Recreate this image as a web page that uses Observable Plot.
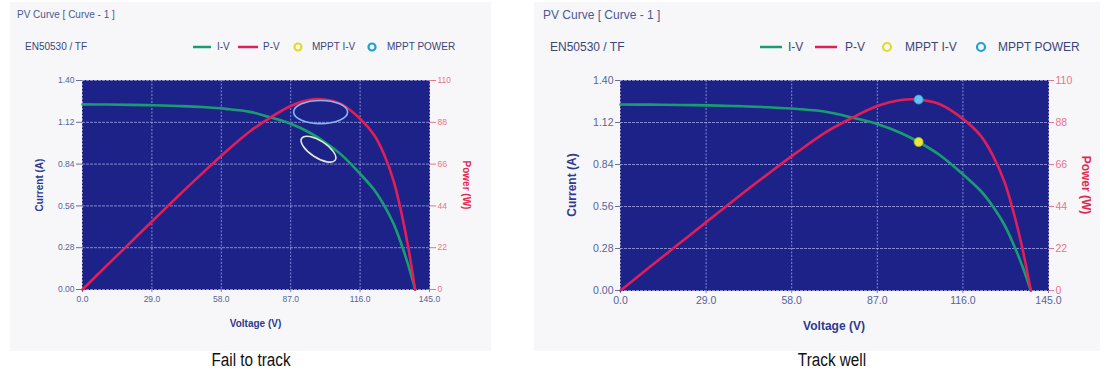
<!DOCTYPE html>
<html><head><meta charset="utf-8">
<script src="https://cdn.jsdelivr.net/npm/d3@7"></script>
<script src="https://cdn.jsdelivr.net/npm/@observablehq/plot@0.6"></script>
<style>
body{margin:0;background:#fff;width:1111px;height:379px;overflow:hidden;position:relative;font-family:"Liberation Sans",Arial,sans-serif;}
.panel{position:absolute;background:#f7f7f9;}
.t{position:absolute;white-space:nowrap;line-height:1;transform:translateY(-50%);}
.c{position:absolute;white-space:nowrap;line-height:1;transform:translate(-50%,-50%);}
.plotbox{position:absolute;}
.plotbox svg{position:absolute;left:0;top:0;overflow:visible;}
</style></head><body>
<script>
// ---- data ----
const voltage = [0, 10, 20, 30, 40, 50, 60, 70, 78, 87, 95, 101, 108, 116, 122, 126, 130, 133, 136, 139];
const current = [1.24, 1.239, 1.237, 1.234, 1.229, 1.222, 1.21, 1.19, 1.155, 1.11, 1.05, 0.99, 0.905, 0.775, 0.665, 0.565, 0.44, 0.315, 0.17, 0];
const power   = [0, 12.4, 24.7, 37.0, 49.2, 61.1, 72.6, 83.3, 90.1, 96.6, 99.8, 100.0, 97.7, 89.9, 81.1, 71.2, 57.2, 41.9, 23.1, 0];
const mpptVoltage = [101];
const mpptCurrent = [0.99];
const mpptPower = [100];
// hand-drawn rings on the "fail to track" panel
const failRingVoltage = [98.6, 99.5];
const failRingCurrent = [0.94];
const failRingPower = [93.4];
const voltageTicks = [0, 29, 58, 87, 116, 145];
const currentTicks = [0, 0.28, 0.56, 0.84, 1.12, 1.40];
const powerTicks = [0, 22, 44, 66, 88, 110];
const legendLabels = ["I-V", "P-V", "MPPT I-V", "MPPT POWER"];
const captions = ["Fail to track", "Track well"];
const chartTitle = "PV Curve [ Curve - 1 ]";
const chartSubtitle = "EN50530 / TF";
const axisTitles = ["Voltage (V)", "Current (A)", "Power (W)"];

const iv = voltage.map((v, k) => ({v, i: current[k]}));
const pv = voltage.map((v, k) => ({v, p: power[k]}));

const NAVY = "#1d2288", GRID = "#a9acec", GREEN = "#1a9c72", RED = "#e01e58";
const YEL = "#e8e838", BLUE = "#5cc4ee", TXT = "#56639a", NAVYTXT = "#2d3a8e", PINK = "#e8738c";
const FONT = "Liberation Sans, Arial, sans-serif";

function ellipseSymbol(aspect) {
  return {draw(ctx, size) {
    const rx = Math.sqrt(size / Math.PI), ry = rx * aspect, k = 0.5523;
    ctx.moveTo(rx, 0);
    ctx.bezierCurveTo(rx, k * ry, k * rx, ry, 0, ry);
    ctx.bezierCurveTo(-k * rx, ry, -rx, k * ry, -rx, 0);
    ctx.bezierCurveTo(-rx, -k * ry, -k * rx, -ry, 0, -ry);
    ctx.bezierCurveTo(k * rx, -ry, rx, -k * ry, rx, 0);
    ctx.closePath();
  }};
}

const panels = [
  {x0: 10, x1: 491, plotL: 82, plotR: 429, plotT: 80, plotB: 289, fs: 10, tfs: 8.5, tsize: 6, track: false,
   titleX: 17, subX: 25, legend: [[193, 211, 217], [238, 258, 263], [298, 0, 312], [372, 0, 387]],
   curX: 40, powX: 466, voltY: 324, capX: 251, ring: 3.5},
  {x0: 534, x1: 1100, plotL: 620, plotR: 1048, plotT: 80, plotB: 290, fs: 12, tfs: 10.5, tsize: 5, track: true,
   titleX: 543, subX: 550, legend: [[760, 782, 788], [815, 837, 845], [887, 0, 905], [981, 0, 998]],
   curX: 572, powX: 1086, voltY: 326, capX: 832, ring: 4}
];

const body = document.body;
function txt(cls, x, y, s, style) {
  const d = document.createElement("div");
  d.className = cls; d.textContent = s;
  d.style.left = x + "px"; d.style.top = y + "px";
  Object.assign(d.style, style || {});
  body.appendChild(d);
  return d;
}

panels.forEach((P, idx) => {
  const bg = document.createElement("div");
  bg.className = "panel";
  Object.assign(bg.style, {left: P.x0 + "px", top: "2px", width: (P.x1 - P.x0) + "px", height: "349px"});
  body.appendChild(bg);

  const svgTop = 60, svgH = 290;
  const W = P.x1 - P.x0;
  const common = {
    width: W, height: svgH,
    marginLeft: P.plotL - P.x0, marginRight: P.x1 - P.plotR,
    marginTop: P.plotT - svgTop, marginBottom: svgTop + svgH - P.plotB,
    style: {background: "transparent", fontFamily: FONT, fontSize: P.tfs + "px", overflow: "visible"},
    x: {domain: [0, 145], axis: null}
  };

  const marksI = [
    Plot.frame({fill: NAVY, stroke: "#15186a"}),
    Plot.gridX(voltageTicks, {stroke: GRID, strokeOpacity: 0.75, strokeDasharray: "2,1.5", strokeWidth: 1}),
    Plot.gridY(currentTicks, {stroke: GRID, strokeOpacity: 0.75, strokeDasharray: "3,1", strokeWidth: 1}),
    Plot.axisX(voltageTicks, {anchor: "bottom", tickFormat: d => d.toFixed(1), tickSize: 3, tickPadding: 3, stroke: "#7a7fa8", fill: TXT, label: null}),
    Plot.axisY(currentTicks, {anchor: "left", tickFormat: d => d.toFixed(2), tickSize: P.tsize, tickPadding: 2, stroke: "#6a6f98", fill: TXT, label: null}),
    Plot.line(iv, {x: "v", y: "i", stroke: GREEN, strokeWidth: 2.6, curve: "catmull-rom"})
  ];
  if (P.track) {
    marksI.push(Plot.dot(mpptVoltage.map((v, k) => ({v, i: mpptCurrent[k]})), {x: "v", y: "i", r: 4.5, fill: YEL, stroke: "#b8b820", strokeWidth: 0.8}));
  } else {
    marksI.push(Plot.dot([{v: failRingVoltage[0], i: failRingCurrent[0]}], {x: "v", y: "i", r: 20, symbol: ellipseSymbol(0.42), rotate: 33, fill: "none", stroke: "#dde9d4", strokeWidth: 1.6}));
  }
  const plotI = Plot.plot({...common, y: {domain: [0, 1.4], axis: null}, marks: marksI});

  const marksP = [
    Plot.axisY(powerTicks, {anchor: "right", tickFormat: d => String(d), tickSize: P.tsize, tickPadding: 2, stroke: PINK, fill: PINK, label: null}),
    Plot.line(pv, {x: "v", y: "p", stroke: RED, strokeWidth: 2.6, curve: "catmull-rom"})
  ];
  if (P.track) {
    marksP.push(Plot.dot(mpptVoltage.map((v, k) => ({v, p: mpptPower[k]})), {x: "v", y: "p", r: 4.5, fill: BLUE, stroke: "#3a9ad0", strokeWidth: 0.8}));
  } else {
    marksP.push(Plot.dot([{v: failRingVoltage[1], p: failRingPower[0]}], {x: "v", y: "p", r: 27, symbol: ellipseSymbol(0.43), fill: "none", stroke: "#86b6f2", strokeWidth: 1.6}));
  }
  const plotP = Plot.plot({...common, y: {domain: [0, 110], axis: null}, marks: marksP});

  const box = document.createElement("div");
  box.className = "plotbox";
  Object.assign(box.style, {left: P.x0 + "px", top: svgTop + "px", width: W + "px", height: svgH + "px"});
  box.appendChild(plotI); box.appendChild(plotP);
  body.appendChild(box);

  // titles
  txt("t", P.titleX, 15, chartTitle, {fontSize: P.fs + "px", color: "#4a5a92"});
  txt("t", P.subX, 47, chartSubtitle, {fontSize: P.fs + "px", color: "#3a4678"});

  // legend
  const lg = document.createElementNS("http://www.w3.org/2000/svg", "svg");
  lg.setAttribute("width", 1111); lg.setAttribute("height", 379);
  Object.assign(lg.style, {position: "absolute", left: 0, top: 0, pointerEvents: "none"});
  const swatchColors = [GREEN, RED, "#dede22", "#1ea0d8"];
  P.legend.forEach((L, k) => {
    let el;
    if (k < 2) {
      el = document.createElementNS("http://www.w3.org/2000/svg", "line");
      el.setAttribute("x1", L[0]); el.setAttribute("x2", L[1]);
      el.setAttribute("y1", 47); el.setAttribute("y2", 47);
      el.setAttribute("stroke", swatchColors[k]); el.setAttribute("stroke-width", 2.5);
    } else {
      el = document.createElementNS("http://www.w3.org/2000/svg", "circle");
      el.setAttribute("cx", L[0]); el.setAttribute("cy", 47); el.setAttribute("r", P.ring);
      el.setAttribute("fill", "none"); el.setAttribute("stroke", swatchColors[k]); el.setAttribute("stroke-width", 2.2);
    }
    lg.appendChild(el);
    txt("t", L[2], 47, legendLabels[k], {fontSize: P.fs + "px", color: "#3a4678"});
  });
  body.appendChild(lg);

  // axis titles
  const plotMidY = (P.plotT + P.plotB) / 2;
  txt("c", (P.plotL + P.plotR) / 2, P.voltY, axisTitles[0], {fontSize: P.fs + "px", fontWeight: "bold", color: NAVYTXT});
  txt("c", P.curX, plotMidY, axisTitles[1], {fontSize: P.fs + "px", fontWeight: "bold", color: NAVYTXT, transform: "translate(-50%,-50%) rotate(-90deg)"});
  txt("c", P.powX, plotMidY, axisTitles[2], {fontSize: P.fs + "px", fontWeight: "bold", color: "#e02a52", transform: "translate(-50%,-50%) rotate(90deg)"});

  // caption
  txt("c", P.capX, 360, captions[idx], {fontSize: "18px", color: "#111", transform: "translate(-50%,-50%) scaleX(0.85)"});
});
</script>
</body></html>
